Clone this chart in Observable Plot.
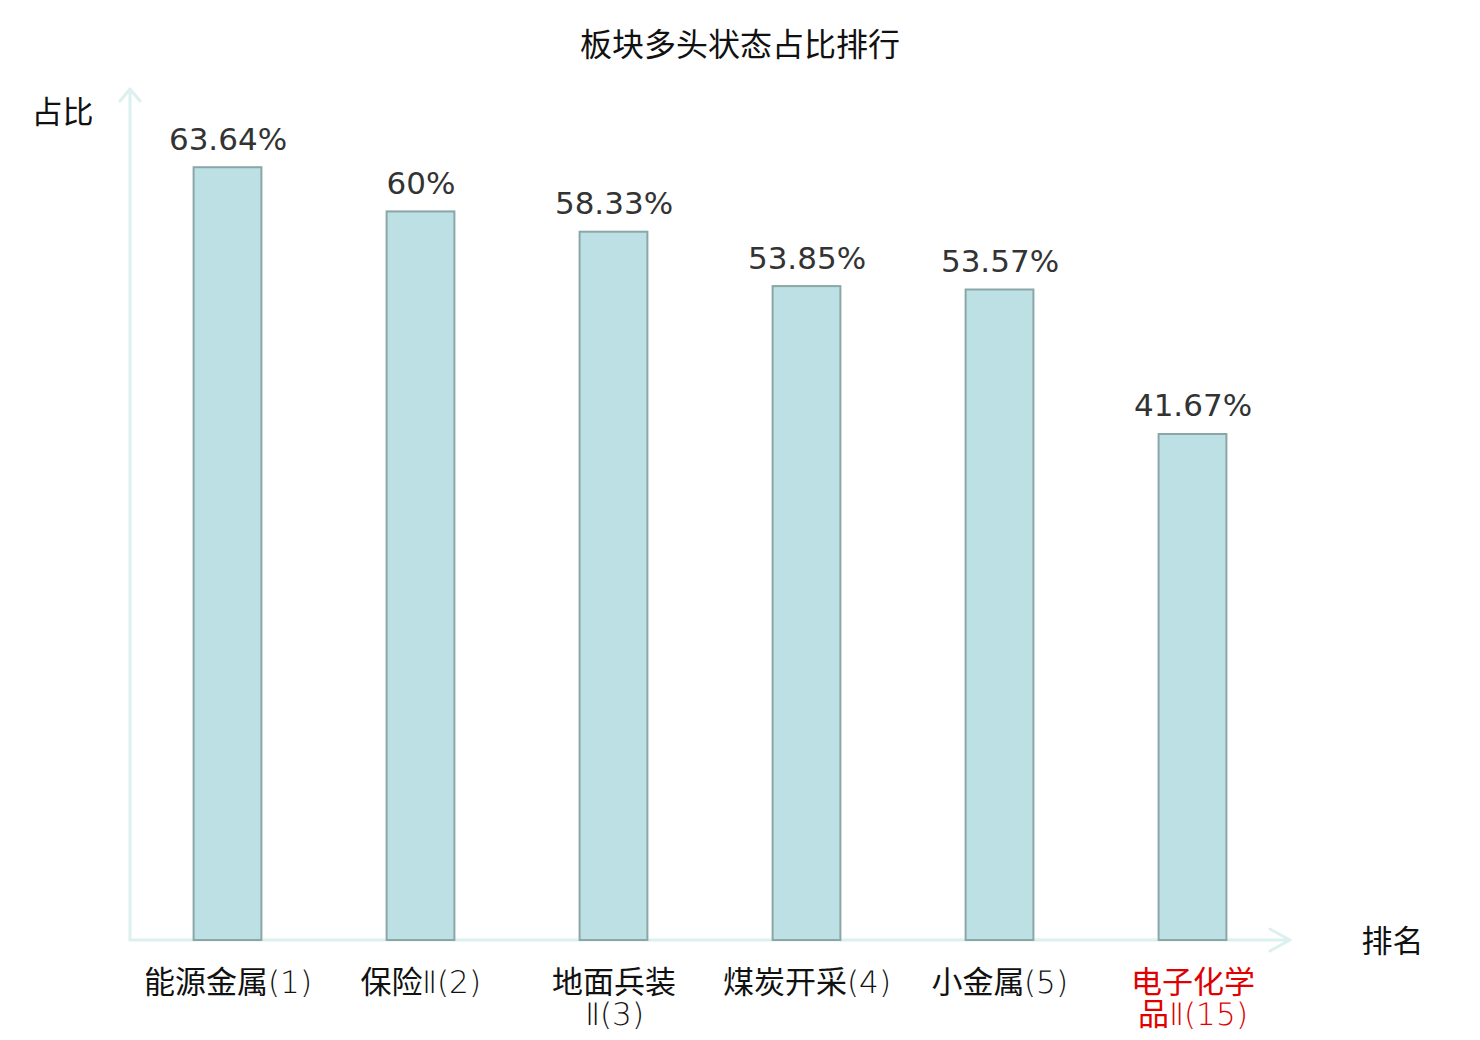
<!DOCTYPE html>
<html>
<head>
<meta charset="utf-8">
<script src="https://cdn.jsdelivr.net/npm/d3@7"></script>
<script src="https://cdn.jsdelivr.net/npm/@observablehq/plot@0.6"></script>
<style>
  @font-face {
    font-family: "TickLatin";
    src: local("DejaVu Sans ExtraLight"), local("DejaVuSans-ExtraLight");
    unicode-range: U+0000-00FF, U+2160-2188;
  }
  html, body { margin: 0; padding: 0; background: #fff; }
  #title { height: 80px; line-height: 84px; text-align: center; font-family: "Noto Sans CJK SC", sans-serif; font-size: 32px; color: #111; }
  #chart svg { display: block; }
</style>
</head>
<body>
<div id="title">板块多头状态占比排行</div>
<div id="chart"></div>
<script>
const categories = ["能源金属(1)", "保险Ⅱ(2)", "地面兵装Ⅱ(3)", "煤炭开采(4)", "小金属(5)", "电子化学品Ⅱ(15)"];
const tickLabels = ["能源金属(1)", "保险Ⅱ(2)", "地面兵装\nⅡ(3)", "煤炭开采(4)", "小金属(5)", "电子化学\n品Ⅱ(15)"];
const values = [63.64, 60, 58.33, 53.85, 53.57, 41.67];
const valueLabels = ["63.64%", "60%", "58.33%", "53.85%", "53.57%", "41.67%"];
const highlighted = ["电子化学品Ⅱ(15)"];
const yLabel = "占比";
const xLabel = "排名";

const data = categories.map((c, i) => ({category: c, value: values[i], label: valueLabels[i], tick: tickLabels[i]}));
const tickOf = new Map(data.map(d => [d.category, d.tick]));

const axisColor = "#dcf1ee";
const cjk = "'Noto Sans CJK SC', sans-serif";
const tickFont = "'TickLatin', 'Noto Sans CJK SC', sans-serif";

function arrowAxes(index, {y}, values, dims) {
  const x0 = dims.marginLeft;
  const x1 = dims.width - dims.marginRight;
  const y0 = y(0);
  const yTop = y(70);
  const g = d3.create("svg:g")
    .attr("fill", "none")
    .attr("stroke", axisColor)
    .attr("stroke-width", 3)
    .attr("stroke-linecap", "round")
    .attr("stroke-linejoin", "round");
  g.append("path").attr("d", `M${x0},${y0}H${x1}M${x1 - 20},${y0 - 11}L${x1},${y0}L${x1 - 20},${y0 + 11}`);
  g.append("path").attr("d", `M${x0},${y0}V${yTop - 1}M${x0 - 10},${yTop + 11}L${x0},${yTop - 1}L${x0 + 10},${yTop + 11}`);
  return g.node();
}

const tickOpts = {
  tickSize: 0, tickPadding: 29, fontSize: 31, fontFamily: tickFont, lineHeight: 1.05,
  tickFormat: c => tickOf.get(c), label: null, lineAnchor: "top"
};

const chart = Plot.plot({
  width: 1480,
  height: 960,
  marginLeft: 130,
  marginRight: 190,
  marginTop: 10,
  marginBottom: 100,
  x: {domain: categories, padding: 0, label: null},
  y: {domain: [0, 70], label: null},
  style: {background: "#fff", overflow: "visible"},
  marks: [
    arrowAxes,
    Plot.barY(data, {x: "category", y: "value", fill: "#bce0e3", stroke: "#8aa6a6", strokeWidth: 2, insetLeft: 62.6, insetRight: 62.6}),
    Plot.text(data, {x: "category", y: "value", text: "label", dy: -28, fontSize: 31, fill: "#333", fontFamily: "'DejaVu Sans', sans-serif"}),
    Plot.axisX(categories.filter(c => !highlighted.includes(c)), {...tickOpts, fill: "#111"}),
    Plot.axisX(highlighted, {...tickOpts, fill: "#e00000"}),
    Plot.axisY({ticks: []}),
    Plot.text([yLabel], {frameAnchor: "top-left", text: d => d, dx: -37, dy: 10, textAnchor: "end", fontSize: 31, fill: "#111", fontFamily: cjk}),
    Plot.text([xLabel], {frameAnchor: "bottom-right", text: d => d, dx: 71, dy: 11, textAnchor: "start", fontSize: 31, fill: "#111", fontFamily: cjk})
  ]
});
document.getElementById("chart").appendChild(chart);
</script>
</body>
</html>
